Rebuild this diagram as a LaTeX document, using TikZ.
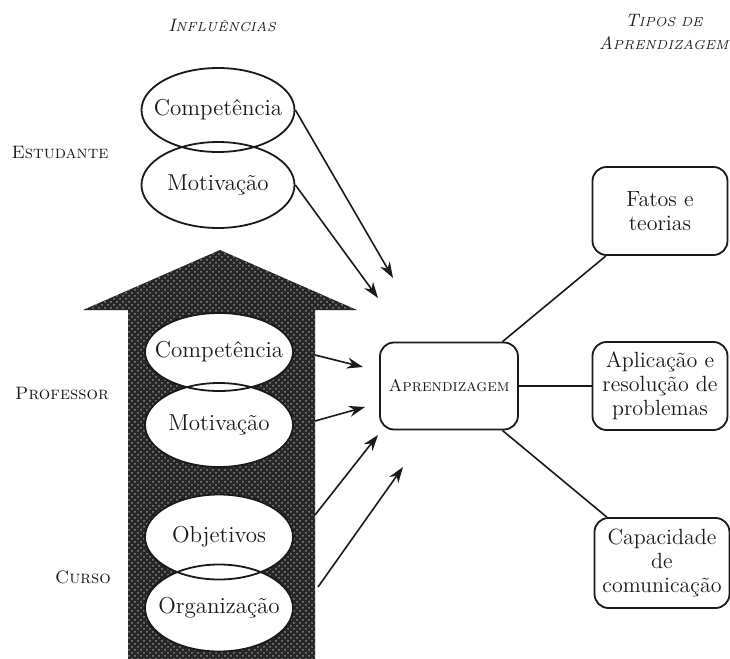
\documentclass[tikz,border=0pt]{standalone}
\usepackage{xcolor}
\usepackage{tikz}
\usetikzlibrary{arrows.meta,shapes.geometric,positioning,patterns}
\definecolor{ink}{HTML}{1A1A1A}
\definecolor{shaft}{HTML}{262626}
\tikzset{
  base/.style={draw=ink, line width=0.9pt},
  infl/.style={draw=ink, line width=0.8pt, -{Stealth[length=8pt,width=5.5pt]}},
  link/.style={draw=ink, line width=0.8pt},
  lens/.style={ellipse, inner xsep=-6pt, inner ysep=0pt, minimum width=74pt, minimum height=42pt, text=ink, font=\fontsize{11.5}{13}\selectfont},
  tipo/.style={rectangle, rounded corners=7pt, draw=ink, line width=0.9pt, minimum width=67.5pt, minimum height=44pt, align=center, inner sep=1pt, text=ink, font=\fontsize{11}{12}\selectfont},
  grp/.style={text=ink, font=\fontsize{9}{10}\selectfont\scshape},
  head/.style={text=ink, align=center, font=\fontsize{9}{11.5}\selectfont},
}
\newcommand{\itsc}[2]{{\itshape\fontsize{9}{11.5}\selectfont #1\fontsize{6.5}{8}\selectfont #2}}

\begin{document}
\begin{tikzpicture}[x=0.5pt, y=-0.5pt]
\fill[white] (0,0) rectangle (730,659);
\useasboundingbox (0,0) rectangle (730,659);

% headings and groups
\node[head] (infl) at (222,25) {\itsc{I}{NFLUÊNCIAS}};
\node[head] (tipos) at (664,32) {\itsc{T}{IPOS DE}\\\itsc{A}{PRENDIZAGEM}};
\node[grp] (estud) at (60,153) {Estudante};
\node[grp] (prof) at (62,393) {Professor};
\node[grp] (curso) at (83,577) {Curso};

% the big arrow
\fill[shaft, postaction={pattern=crosshatch dots, pattern color=black!45}]
  (128,659) -- (128,310) -- (83,310) -- (220,250) -- (357,310) -- (315,310) -- (315,659) -- cycle;

% student
\node[lens, base, minimum width=76.5pt] (compE) at (218,110) {Competência};
\node[lens, base, minimum width=76.5pt, minimum height=43pt] (motE) at (218,185) {Motivação};

% teacher and course
\foreach \y/\h in {352/39, 425/42, 537/42.5, 608/43.5}
  \node[lens, fill=white, minimum height=\h pt] at (219,\y) {};
\node[lens, base, minimum height=39pt] (compP) at (219,352) {Competência};
\node[lens, base] (motP) at (219,425) {Motivação};
\node[lens, base, minimum height=42.5pt] (objC) at (219,537) {Objetivos};
\node[lens, base, minimum height=43.5pt] (orgC) at (219,608) {Organização};

% learning
\node[tipo, minimum width=69pt, minimum height=43.5pt] (apr) at (449,386) {\fontsize{8.5}{10}\selectfont\scshape Aprendizagem};
\node[tipo] (fatos) at (660,211) {Fatos e\\teorias};
\node[tipo] (aplic) at (660,386) {Aplicação e\\resolução de\\problemas};
\node[tipo, minimum height=45pt] (capac) at (662,563) {Capacidade\\de\\comunicação};

\draw[link] (apr) -- (fatos);
\draw[link] (apr) -- (aplic);
\draw[link] (apr) -- (capac);

% influences
\coordinate (t1) at (393,278);
\coordinate (t2) at (378,298);
\coordinate (t3) at (363,367);
\coordinate (t4) at (365,407);
\coordinate (t5) at (378,435);
\coordinate (t6) at (403,467);
\coordinate (p1) at (315,355);
\coordinate (p2) at (315,421);
\coordinate (p3) at (315,515);
\coordinate (p4) at (318,587);
\draw[infl] (compE.east) -- (t1);
\draw[infl] (motE.east) -- (t2);
\draw[infl] (p1) -- (t3);
\draw[infl] (p2) -- (t4);
\draw[infl] (p3) -- (t5);
\draw[infl] (p4) -- (t6);
\end{tikzpicture}
\end{document}
